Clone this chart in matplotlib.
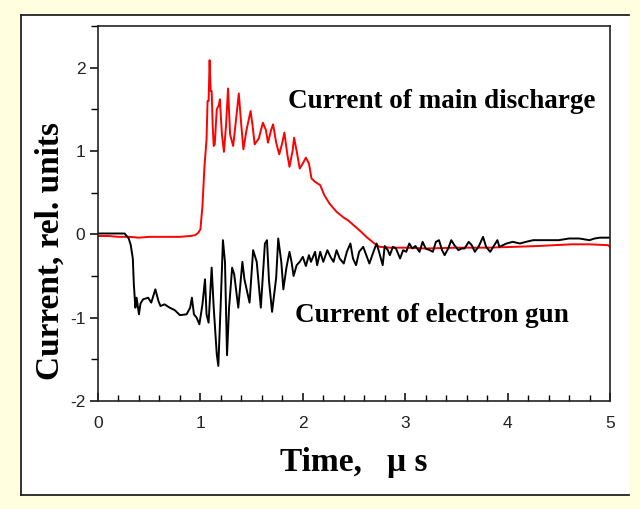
import matplotlib
matplotlib.use("Agg")
import matplotlib.pyplot as plt
from matplotlib.ticker import MultipleLocator

plt.rcParams["axes.unicode_minus"] = False

# Current of main discharge (red)
t_main = [0.0, 0.1, 0.2, 0.3, 0.4, 0.5, 0.6, 0.7, 0.8, 0.9,
          0.95, 0.98, 1.0, 1.02, 1.04, 1.06, 1.07, 1.08, 1.09, 1.10,
          1.11, 1.12, 1.13, 1.14, 1.16, 1.18, 1.19, 1.21, 1.23, 1.25,
          1.27, 1.29, 1.32, 1.35, 1.375, 1.40, 1.42, 1.45, 1.49, 1.51,
          1.53, 1.57, 1.61, 1.64, 1.66, 1.69, 1.71, 1.74, 1.77, 1.80,
          1.82, 1.85, 1.87, 1.90, 1.915, 1.94, 1.97, 2.00, 2.03, 2.06,
          2.085, 2.12, 2.17, 2.21, 2.26, 2.33, 2.40, 2.44, 2.51, 2.57,
          2.62, 2.70, 2.75, 2.85, 3.0, 3.2, 3.5, 3.8, 4.07, 4.3,
          4.62, 4.8, 4.98, 5.0]
i_main = [-0.02, -0.02, -0.03, -0.03, -0.04, -0.03, -0.03, -0.03, -0.03, -0.02,
          -0.01, 0.02, 0.06, 0.34, 0.82, 1.14, 1.60, 1.60, 2.09, 1.72,
          1.72, 1.30, 1.06, 1.08, 1.50, 1.55, 1.62, 1.20, 0.99, 1.30,
          1.75, 1.20, 1.06, 1.40, 1.69, 1.30, 1.02, 1.25, 1.48, 1.30,
          1.08, 1.15, 1.34, 1.25, 1.10, 1.25, 1.32, 1.10, 0.96, 1.10,
          1.22, 0.95, 0.81, 1.00, 1.16, 1.00, 0.79, 0.85, 0.92, 0.85,
          0.67, 0.63, 0.59, 0.47, 0.37, 0.27, 0.20, 0.17, 0.095, 0.03,
          -0.03, -0.11, -0.15, -0.16, -0.16, -0.17, -0.16, -0.16, -0.15, -0.14,
          -0.12, -0.12, -0.13, -0.15]

# Current of electron gun (black)
t_gun = [0.0, 0.1, 0.2, 0.26, 0.30, 0.32, 0.34, 0.35, 0.365, 0.377,
         0.40, 0.415, 0.44, 0.49, 0.52, 0.56, 0.59, 0.61, 0.65, 0.70,
         0.75, 0.80, 0.865, 0.90, 0.917, 0.937, 0.963, 0.99, 1.02, 1.045,
         1.06, 1.08, 1.11, 1.13, 1.16, 1.175, 1.20, 1.22, 1.24, 1.26,
         1.28, 1.31, 1.33, 1.37, 1.41, 1.43, 1.48, 1.515, 1.55, 1.59,
         1.63, 1.65, 1.67, 1.70, 1.74, 1.76, 1.79, 1.81, 1.84, 1.87,
         1.89, 1.91, 1.94, 1.97, 2.00, 2.03, 2.06, 2.08, 2.12, 2.14,
         2.17, 2.20, 2.24, 2.27, 2.30, 2.33, 2.36, 2.40, 2.43, 2.465,
         2.49, 2.52, 2.55, 2.59, 2.62, 2.65, 2.69, 2.72, 2.74, 2.78,
         2.80, 2.83, 2.85, 2.88, 2.91, 2.95, 2.98, 3.01, 3.04, 3.07,
         3.10, 3.14, 3.17, 3.20, 3.24, 3.27, 3.30, 3.33, 3.36, 3.385,
         3.42, 3.45, 3.48, 3.52, 3.55, 3.58, 3.62, 3.65, 3.68, 3.72,
         3.76, 3.79, 3.83, 3.86, 3.90, 3.92, 3.99, 4.05, 4.12, 4.18,
         4.25, 4.35, 4.5, 4.6, 4.7, 4.8, 4.85, 4.9, 5.0]
i_gun = [0.01, 0.01, 0.01, 0.01, -0.05, -0.13, -0.29, -0.60, -0.88, -0.76,
         -0.96, -0.83, -0.78, -0.76, -0.82, -0.66, -0.80, -0.86, -0.84, -0.88,
         -0.91, -0.97, -0.96, -0.88, -0.76, -0.96, -1.00, -1.08, -0.84, -0.54,
         -0.96, -1.06, -0.40, -0.88, -1.44, -1.58, -0.78, -0.07, -0.33, -1.45,
         -0.88, -0.40, -0.48, -0.88, -0.33, -0.54, -0.82, -0.19, -0.33, -0.88,
         -0.11, -0.07, -0.56, -0.93, -0.52, -0.05, -0.33, -0.66, -0.40, -0.21,
         -0.33, -0.50, -0.37, -0.33, -0.27, -0.38, -0.25, -0.33, -0.21, -0.37,
         -0.21, -0.33, -0.19, -0.27, -0.33, -0.19, -0.29, -0.35, -0.21, -0.11,
         -0.29, -0.37, -0.21, -0.15, -0.25, -0.35, -0.21, -0.11, -0.19, -0.37,
         -0.14, -0.19, -0.25, -0.15, -0.17, -0.29, -0.19, -0.21, -0.11, -0.17,
         -0.14, -0.21, -0.09, -0.17, -0.19, -0.21, -0.09, -0.07, -0.19, -0.25,
         -0.17, -0.07, -0.13, -0.19, -0.17, -0.17, -0.09, -0.13, -0.21, -0.14,
         -0.03, -0.15, -0.21, -0.15, -0.07, -0.15, -0.11, -0.09, -0.11, -0.09,
         -0.07, -0.07, -0.07, -0.05, -0.05, -0.07, -0.05, -0.04, -0.04]

assert len(t_main) == len(i_main)
assert len(t_gun) == len(i_gun)

serif = "Liberation Serif"
sans = "Liberation Sans"

W, H = 640, 509
fig = plt.figure(figsize=(6.4, 5.09), dpi=100, facecolor="#FFFFE0")

# white panel with black border (left, top, bottom)
panel = plt.Rectangle((21 / W, 1 - 495 / H), (629 - 21) / W, (495 - 15) / H,
                      transform=fig.transFigure, facecolor="white",
                      edgecolor="none", zorder=-5)
fig.add_artist(panel)
for xs, ys in [([21, 629], [15, 15]), ([21, 629], [495, 495]), ([21, 21], [15, 495])]:
    fig.add_artist(plt.Line2D([x / W for x in xs], [1 - y / H for y in ys],
                              transform=fig.transFigure, color="#222222", lw=1.3, zorder=-4))

ax = fig.add_axes([98 / W, 1 - 401 / H, (610 - 98) / W, (401 - 26) / H])
ax.set_zorder(2)
ax.patch.set_alpha(0)

ax.plot(t_main, i_main, color="#FF0000", lw=1.4)
ax.plot(t_gun, i_gun, color="black", lw=1.4)

ax.set_xlim(0, 5)
ax.set_ylim(-2, 2.5)
ax.set_xticks([0, 1, 2, 3, 4, 5])
ax.set_yticks([-2, -1, 0, 1, 2])
ax.xaxis.set_minor_locator(MultipleLocator(0.2))
ax.yaxis.set_minor_locator(MultipleLocator(0.5))
ax.tick_params(axis="x", which="major", direction="in", length=6, width=1.1, pad=11)
ax.tick_params(axis="x", which="minor", direction="in", length=4, width=1.0)
ax.tick_params(axis="y", which="major", direction="out", length=6, width=1.1, pad=3)
ax.tick_params(axis="y", which="minor", direction="out", length=5, width=1.0)
for lab in ax.get_xticklabels() + ax.get_yticklabels():
    lab.set_family(sans)
    lab.set_fontsize(12.5)
    lab.set_color("#222222")
for s in ax.spines.values():
    s.set_linewidth(1.2)
    s.set_color("#222222")

ax.text(0.5, -0.163, "Time,   \u03bc s", transform=ax.transAxes, ha="center", va="center",
        family=serif, fontweight="bold", fontsize=24)
ax.text(-0.094, 0.40, "Current, rel. units", transform=ax.transAxes, ha="center", va="center",
        rotation=90, family=serif, fontweight="bold", fontsize=24)

ax.text(1.855, 1.60, "Current of main discharge", ha="left", va="center",
        family=serif, fontweight="bold", fontsize=19.5)
ax.text(1.92, -0.97, "Current of electron gun", ha="left", va="center",
        family=serif, fontweight="bold", fontsize=19.5)

fig.savefig("out.png", dpi=100, facecolor=fig.get_facecolor())
